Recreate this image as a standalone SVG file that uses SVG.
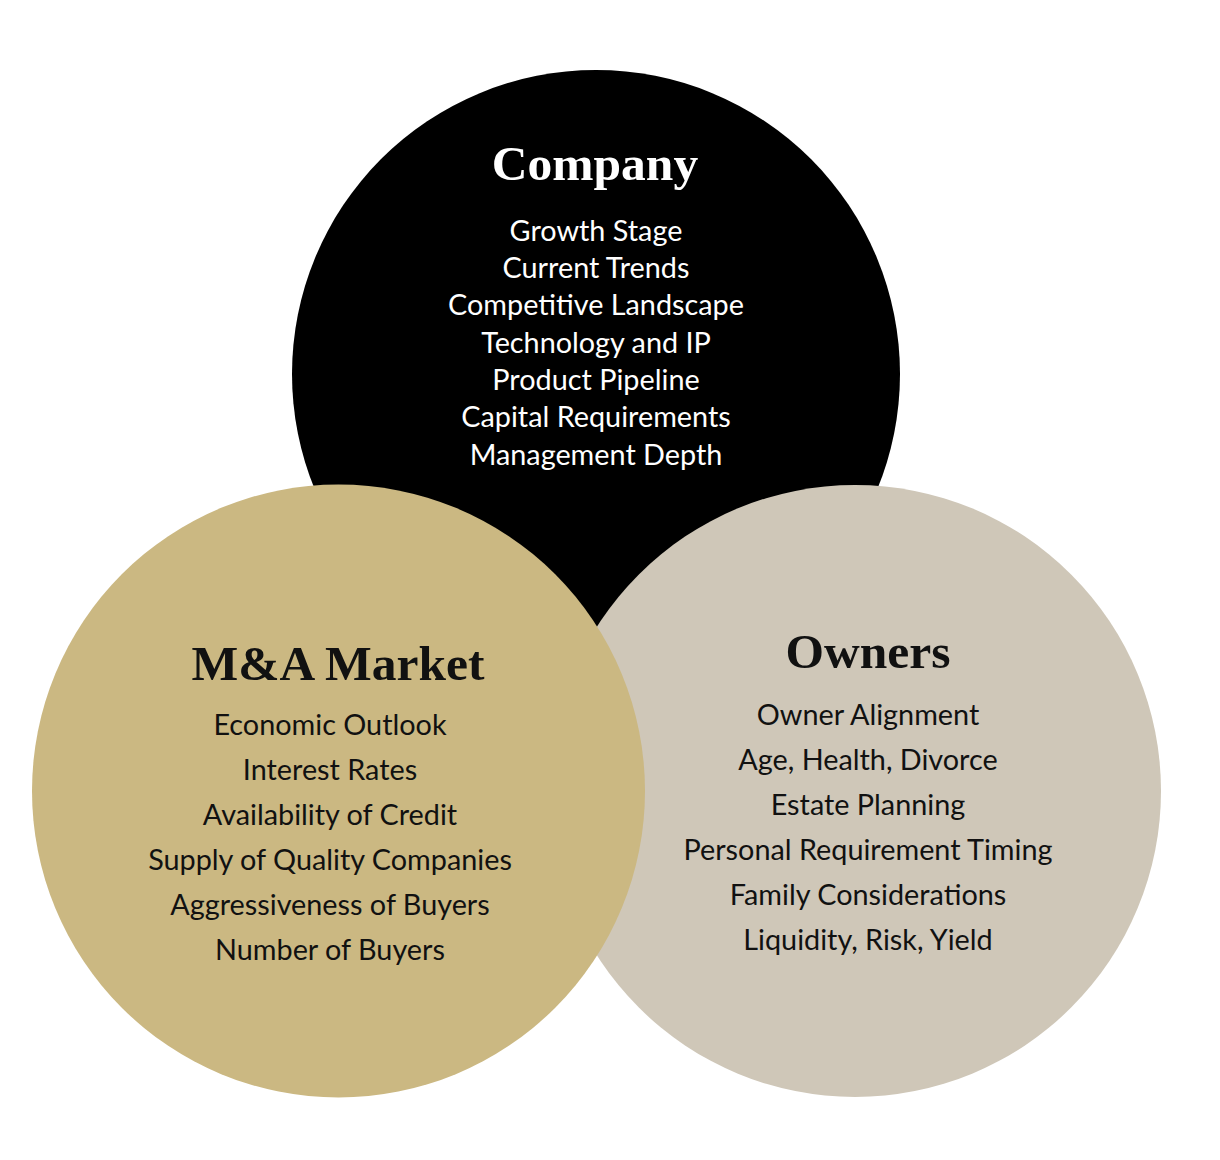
<svg xmlns="http://www.w3.org/2000/svg" width="1220" height="1160" viewBox="0 0 1220 1160">
<style>
.title{font-family:"Liberation Serif","Times New Roman",serif;font-weight:bold;font-size:49.5px;text-anchor:middle}
.item{font-family:Lato,"Liberation Sans",sans-serif;font-size:28.8px;text-anchor:middle}
.w{fill:#ffffff}
.k{fill:#111111}
</style>
<rect width="1220" height="1160" fill="#ffffff"/>
<g id="company">
<circle cx="596" cy="374" r="304" fill="#000000"/>
</g>
<g id="owners">
<circle cx="855" cy="791" r="306" fill="#CFC7B8"/>
</g>
<g id="market">
<circle cx="338.5" cy="791" r="306.5" fill="#CBB882"/>
</g>
<g id="company-text">
<text class="title w" x="595" y="180">Company</text>
<text class="item w" x="596" y="241">Growth Stage</text>
<text class="item w" x="596" y="278">Current Trends</text>
<text class="item w" x="596" y="315">Competitive Landscape</text>
<text class="item w" x="596" y="353">Technology and IP</text>
<text class="item w" x="596" y="390">Product Pipeline</text>
<text class="item w" x="596" y="427">Capital Requirements</text>
<text class="item w" x="596" y="465">Management Depth</text>
</g>
<g id="market-text">
<text class="title k" x="338" y="680">M&amp;A Market</text>
<text class="item k" x="330" y="735">Economic Outlook</text>
<text class="item k" x="330" y="780">Interest Rates</text>
<text class="item k" x="330" y="825">Availability of Credit</text>
<text class="item k" x="330" y="870">Supply of Quality Companies</text>
<text class="item k" x="330" y="915">Aggressiveness of Buyers</text>
<text class="item k" x="330" y="960">Number of Buyers</text>
</g>
<g id="owners-text">
<text class="title k" x="868" y="668">Owners</text>
<text class="item k" x="868" y="725">Owner Alignment</text>
<text class="item k" x="868" y="770">Age, Health, Divorce</text>
<text class="item k" x="868" y="815">Estate Planning</text>
<text class="item k" x="868" y="860">Personal Requirement Timing</text>
<text class="item k" x="868" y="905">Family Considerations</text>
<text class="item k" x="868" y="950">Liquidity, Risk, Yield</text>
</g>
<g id="connectors"></g>
</svg>
